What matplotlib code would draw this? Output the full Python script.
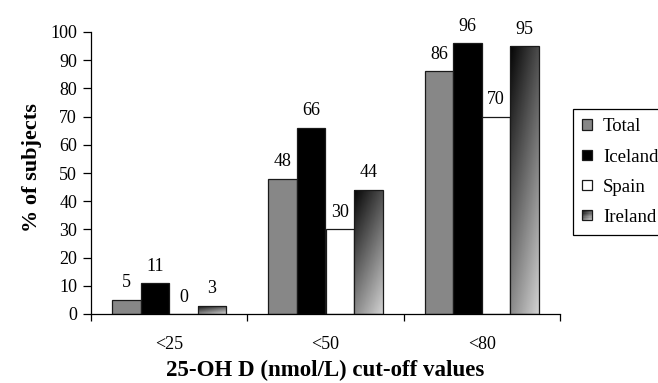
import numpy as np
import matplotlib
matplotlib.use("Agg")
import matplotlib.pyplot as plt
from matplotlib.patches import Rectangle
from matplotlib.legend_handler import HandlerBase

categories = ["<25", "<50", "<80"]
series_names = ["Total", "Iceland", "Spain", "Ireland"]
total = [5, 48, 86]
iceland = [11, 66, 96]
spain = [0, 30, 70]
ireland = [3, 44, 95]
yticks = [0, 10, 20, 30, 40, 50, 60, 70, 80, 90, 100]

plt.rcParams['font.family'] = ['Liberation Serif', 'DejaVu Serif']

fig = plt.figure(figsize=(6.58, 3.83), dpi=100)
ax = fig.add_axes([91/658, 1-314/383, (560-91)/658, (314-32)/383])

w = 0.183
centers = np.arange(len(categories)) + 0.5
colors = ["#878787", "#000000", "#ffffff", None]
data = [total, iceland, spain, ireland]

def grad_array(n=64):
    u = np.linspace(0, 1, n)[None, :]
    v = np.linspace(0, 1, n)[:, None]
    t = np.clip(0.35 * u + 0.65 * v, 0, 1)
    return 0.02 + t * 0.80

G = grad_array()

for i, (vals, c) in enumerate(zip(data, colors)):
    xs = centers + (i - 1.5) * w
    if c is not None:
        bars = ax.bar(xs, vals, width=w, color=c, edgecolor="#1a1a1a", linewidth=0.9, zorder=2)
    else:
        bars = ax.bar(xs, vals, width=w, facecolor="none", edgecolor="#1a1a1a", linewidth=0.9, zorder=3)
        for b in bars:
            x0, y0 = b.get_x(), b.get_y()
            im = ax.imshow(G, cmap="gray", vmin=0, vmax=1, extent=[x0, x0 + b.get_width(), y0, y0 + b.get_height()],
                           origin="upper", aspect="auto", interpolation="bilinear", zorder=2)
            im.set_clip_path(b)
    for x, v in zip(xs, vals):
        ax.text(x, v + 3, f"{v}", ha="center", va="bottom", fontsize=13)

ax.set_xlim(0, 3)
ax.set_ylim(0, 100)
ax.set_yticks(yticks)
ax.set_xticks([0, 1, 2, 3])
ax.set_xticklabels([])
ax.set_xticks(centers, minor=True)
ax.set_xticklabels(categories, minor=True)
ax.tick_params(axis="x", which="minor", length=0, pad=16, labelsize=13)
ax.tick_params(axis="x", which="major", length=5, direction="out", width=0.9)
ax.tick_params(axis="y", length=6, direction="out", width=0.9, pad=4, labelsize=13)
for s in ["top", "right"]:
    ax.spines[s].set_visible(False)
for s in ["left", "bottom"]:
    ax.spines[s].set_linewidth(0.9)

ax.set_ylabel("% of subjects", fontsize=16, fontweight="bold", va="center", ha="center")
ax.yaxis.set_label_coords(-59/469, 0.52)
ax.set_xlabel("25-OH D (nmol/L) cut-off values", fontsize=16.5, fontweight="bold", va="center", ha="center")
ax.xaxis.set_label_coords(0.5, -56/282)


class GradHandler(HandlerBase):
    def create_artists(self, legend, orig_handle, xdescent, ydescent, width, height, fontsize, trans):
        arts = []
        n = 8
        for r in range(n):
            for c in range(n):
                val = 0.02 + np.clip(0.35 * (c + 0.5) / n + 0.65 * (r + 0.5) / n, 0, 1) * 0.80
                rect = Rectangle((-xdescent + c * width / n, -ydescent + height - (r + 1) * height / n),
                                 width / n, height / n, facecolor=str(val), edgecolor="none", transform=trans)
                arts.append(rect)
        edge = Rectangle((-xdescent, -ydescent), width, height, facecolor="none", edgecolor="#1a1a1a",
                         linewidth=0.9, transform=trans)
        arts.append(edge)
        return arts


handles = [Rectangle((0, 0), 1, 1, facecolor=c, edgecolor="#1a1a1a", linewidth=0.9) for c in colors[:3]]
grad_h = Rectangle((0, 0), 1, 1)
handles.append(grad_h)
leg = fig.legend(handles, series_names, loc="upper left", bbox_to_anchor=(573/658, 1-109/383),
                 fontsize=13.5, frameon=True, fancybox=False, edgecolor="black", framealpha=1,
                 handlelength=0.5, handleheight=0.5, handletextpad=0.6, labelspacing=0.7,
                 borderpad=0.5, borderaxespad=0, handler_map={grad_h: GradHandler()})
leg.get_frame().set_linewidth(0.9)

fig.savefig("out.png", dpi=100)
